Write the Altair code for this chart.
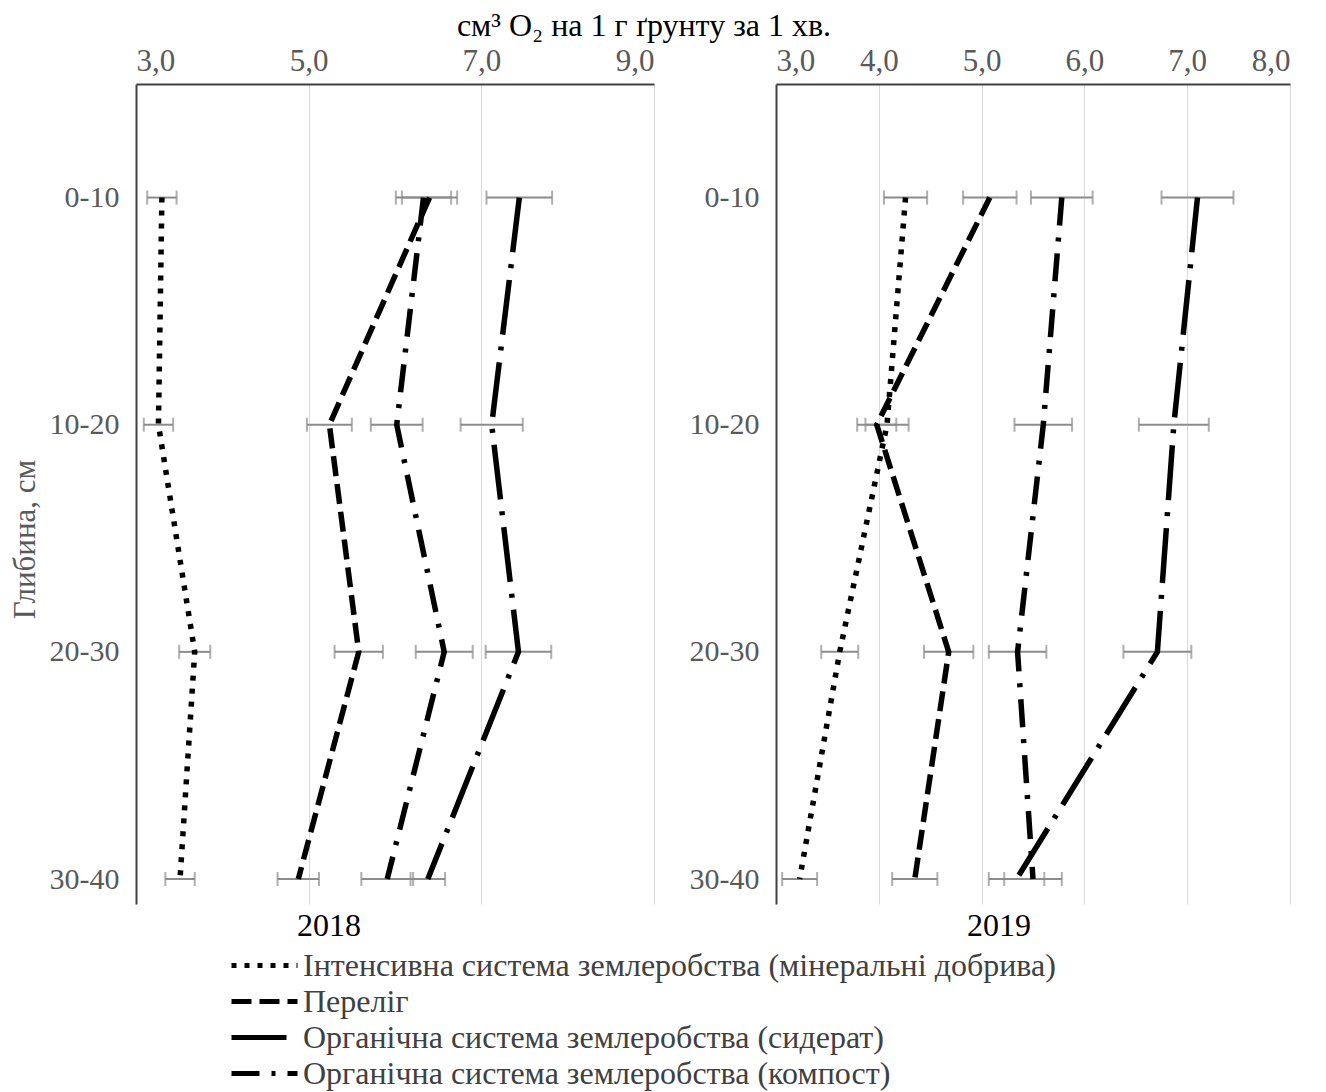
import json
import altair as alt
import pandas as pd

# ---------------- data ----------------
depths = ["0-10", "10-20", "20-30", "30-40"]
series_names = [
    "Інтенсивна система землеробства (мінеральні добрива)",
    "Переліг",
    "Органічна система землеробства (сидерат)",
    "Органічна система землеробства (компост)",
]
dash_patterns = [[5, 8], [20, 8], [55, 12, 4, 12], [28, 12, 4, 12]]

# 2018
y18_intensive = [3.30, 3.26, 3.68, 3.51]
y18_fallow = [6.40, 5.24, 5.58, 4.88]
y18_siderat = [7.44, 7.12, 7.43, 6.38]
y18_compost = [6.33, 6.02, 6.57, 5.91]
e18_intensive = [0.17, 0.17, 0.18, 0.17]
e18_fallow = [0.32, 0.26, 0.28, 0.24]
e18_siderat = [0.38, 0.36, 0.38, 0.20]
e18_compost = [0.32, 0.30, 0.33, 0.30]

# 2019
y19_intensive = [4.26, 4.08, 3.62, 3.23]
y19_fallow = [5.08, 3.98, 4.68, 4.35]
y19_siderat = [7.10, 6.87, 6.71, 5.34]
y19_compost = [5.78, 5.60, 5.35, 5.50]
e19_intensive = [0.21, 0.21, 0.18, 0.17]
e19_fallow = [0.26, 0.19, 0.24, 0.22]
e19_siderat = [0.35, 0.34, 0.33, 0.27]
e19_compost = [0.30, 0.28, 0.28, 0.28]

x18_ticks = [3, 5, 7, 9]
x19_ticks = [3, 4, 5, 6, 7, 8]

title_text = "см³ O₂ на 1 г ґрунту за 1 хв."
y_title = "Глибина, см"


def panel_df(vals, errs):
    rows = []
    for s, v, e in zip(series_names, vals, errs):
        for i, (d, x, er) in enumerate(zip(depths, v, e)):
            rows.append({"series": s, "depth": d, "idx": i + 1,
                         "value": x, "lo": x - er, "hi": x + er})
    return pd.DataFrame(rows)


df18 = panel_df([y18_intensive, y18_fallow, y18_siderat, y18_compost],
                [e18_intensive, e18_fallow, e18_siderat, e18_compost])
df19 = panel_df([y19_intensive, y19_fallow, y19_siderat, y19_compost],
                [e19_intensive, e19_fallow, e19_siderat, e19_compost])

FONT = "Liberation Serif"
label_expr = f"{json.dumps(depths)}[datum.value - 1]"

legend = alt.Legend(
    title=None, orient="none", legendX=111, legendY=864, direction="vertical",
    symbolType="M-2.2,0H2.2", symbolSize=900, symbolStrokeWidth=5,
    symbolStrokeColor="black", labelFont=FONT, labelFontSize=32,
    labelColor="#404040", labelOffset=21, rowPadding=2, padding=0,
    labelLimit=1200,
)


def panel(df, xdomain, xticks, year, title_dx, width, show_ytitle):
    yscale = alt.Scale(domain=[0.5, 4.11], reverse=True, nice=False, zero=False)
    xscale = alt.Scale(domain=xdomain, nice=False, zero=False)
    xaxis = alt.Axis(
        orient="top", values=xticks,
        labelExpr="replace(format(datum.value, '.1f'), '.', ',')",
        ticks=False, tickSize=0, grid=True, gridColor="#d9d9d9", gridWidth=1,
        domainColor="#404040", domainWidth=2, labelFont=FONT, labelFontSize=31,
        labelColor="#595959", labelPadding=7, title=None,
    )
    yargs = dict(
        values=[1, 2, 3, 4], labelExpr=label_expr, ticks=False, tickSize=0,
        grid=False, domainColor="#404040", domainWidth=2, labelFont=FONT,
        labelFontSize=30, labelColor="#595959", labelPadding=17,
    )
    if show_ytitle:
        yaxis = alt.Axis(title=y_title, titleFont=FONT, titleFontSize=31,
                         titleColor="#595959", titleFontWeight="normal",
                         titleX=-95, titleY=455, **yargs)
    else:
        yaxis = alt.Axis(title=None, **yargs)

    base = alt.Chart(df)
    rule = base.mark_rule(color="#8c8c8c", strokeWidth=2).encode(
        x=alt.X("lo:Q", scale=xscale, axis=xaxis),
        x2="hi:Q",
        y=alt.Y("idx:Q", scale=yscale, axis=yaxis),
    )
    cap_lo = base.mark_tick(color="#8c8c8c", orient="vertical", thickness=2, size=14).encode(
        x=alt.X("lo:Q", scale=xscale, axis=xaxis),
        y=alt.Y("idx:Q", scale=yscale, axis=yaxis),
    )
    cap_hi = base.mark_tick(color="#8c8c8c", orient="vertical", thickness=2, size=14).encode(
        x=alt.X("hi:Q", scale=xscale, axis=xaxis),
        y=alt.Y("idx:Q", scale=yscale, axis=yaxis),
    )
    line = base.mark_line(color="black", strokeWidth=5.5).encode(
        x=alt.X("value:Q", scale=xscale, axis=xaxis),
        y=alt.Y("idx:Q", scale=yscale, axis=yaxis),
        order=alt.Order("idx:Q"),
        strokeDash=alt.StrokeDash(
            "series:N",
            scale=alt.Scale(domain=series_names, range=dash_patterns),
            legend=legend,
        ),
    )
    return alt.layer(rule, cap_lo, cap_hi, line).properties(
        width=width, height=820,
        title=alt.TitleParams(year, orient="bottom", anchor="middle", dx=title_dx,
                              offset=7, font=FONT, fontSize=32,
                              fontWeight="normal", color="black"),
    )


left = panel(df18, [3, 9], x18_ticks, "2018", -66, 518, True)
right = panel(df19, [3, 8], x19_ticks, "2019", -34, 514, False)

chart = alt.hconcat(left, right, spacing=122, bounds="flush").resolve_scale(
    x="independent", y="independent", strokeDash="shared"
).properties(
    title=alt.TitleParams(title_text, font=FONT, fontSize=32, fontWeight="normal",
                          color="black", anchor="middle", frame="group", dx=508,
                          offset=2),
    padding={"left": 0, "top": 1, "right": 5, "bottom": 2},
).configure_view(stroke="transparent")

chart.save("out.html", embed_options={"renderer": "svg", "actions": False})
